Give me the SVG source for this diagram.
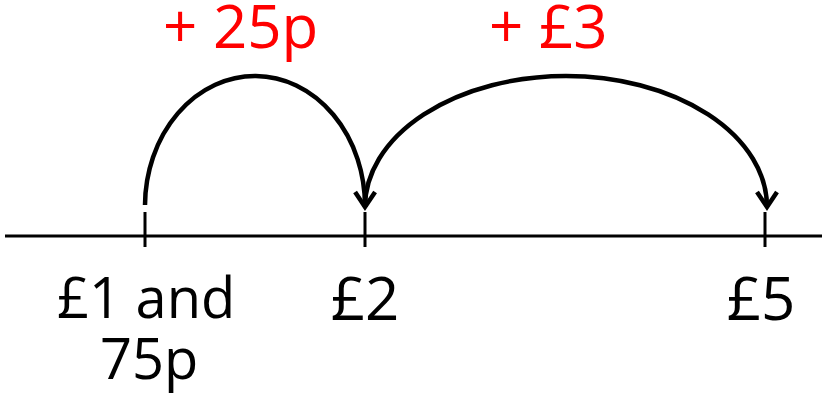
<svg xmlns="http://www.w3.org/2000/svg" width="822" height="397" viewBox="0 0 822 397">
<defs>
<style>
.ln{stroke:#000;stroke-width:3;fill:none}
.arc{stroke:#000;stroke-width:4.5;fill:none;marker-end:url(#ah)}
.t{font-family:"Open Sans","Noto Sans",sans-serif;font-size:56px;fill:#000}
.b{font-size:60px}
.r{font-family:"Open Sans","Noto Sans",sans-serif;font-size:60px;fill:#ff0000}
</style>
<marker id="ah" viewBox="0 0 24 24" refX="19" refY="12" markerWidth="24" markerHeight="24" markerUnits="userSpaceOnUse" orient="auto">
<polyline points="4,2 19,12 4,22" fill="none" stroke="#000" stroke-width="4.5"/>
</marker>
</defs>
<rect width="822" height="397" fill="#fff"/>
<g id="numberline">
<line class="ln" x1="5" y1="236" x2="822" y2="236"/>
<line class="ln" x1="145" y1="212" x2="145" y2="247"/>
<line class="ln" x1="365" y1="212" x2="365" y2="247"/>
<line class="ln" x1="765" y1="212" x2="765" y2="247"/>
</g>
<g id="connectors">
<path class="arc" d="M145,205 A110,130 0 0 1 365,207"/>
<path class="arc" d="M365,207 A201,131 0 0 1 767,207"/>
</g>
<g id="label-25p"><text class="r" x="163" y="48">+ 25p</text></g>
<g id="label-3"><text class="r" x="489" y="48">+ £3</text></g>
<g id="node-175"><text class="t" x="57" y="318">£1 and</text><text class="t" x="100" y="379">75p</text></g>
<g id="node-2"><text class="t b" x="365" y="320" text-anchor="middle">£2</text></g>
<g id="node-5"><text class="t b" x="761" y="320" text-anchor="middle">£5</text></g>
</svg>
